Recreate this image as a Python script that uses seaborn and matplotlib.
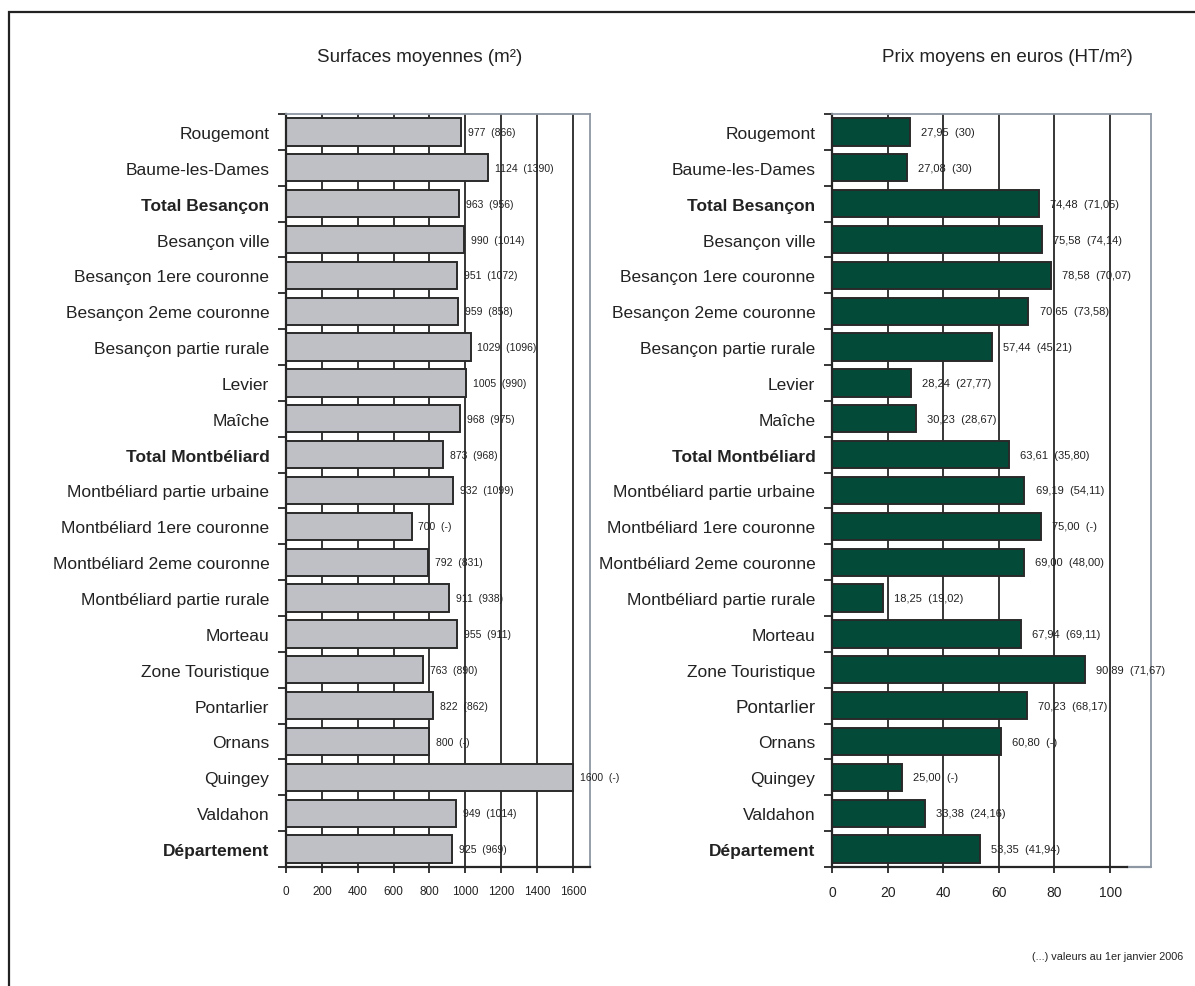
import matplotlib
matplotlib.use("Agg")
import matplotlib.pyplot as plt
from matplotlib.patches import Rectangle
from matplotlib.ticker import FixedLocator
import seaborn as sns
import pandas as pd

sns.set_theme(style="white")
plt.rcParams["font.family"] = ["Liberation Sans", "DejaVu Sans"]

categories = ["Rougemont", "Baume-les-Dames", "Total Besançon", "Besançon ville",
              "Besançon 1ere couronne", "Besançon 2eme couronne", "Besançon partie rurale",
              "Levier", "Maîche", "Total Montbéliard", "Montbéliard partie urbaine",
              "Montbéliard 1ere couronne", "Montbéliard 2eme couronne",
              "Montbéliard partie rurale", "Morteau", "Zone Touristique", "Pontarlier",
              "Ornans", "Quingey", "Valdahon", "Département"]
bold_rows = ["Total Besançon", "Total Montbéliard", "Département"]

surfaces = [977, 1124, 963, 990, 951, 959, 1029, 1005, 968, 873, 932, 700, 792,
            911, 955, 763, 822, 800, 1600, 949, 925]
surfaces_2006 = ["866", "1390", "956", "1014", "1072", "858", "1096", "990", "975",
                 "968", "1099", "-", "831", "938", "911", "890", "862", "-", "-",
                 "1014", "969"]

prix = [27.95, 27.08, 74.48, 75.58, 78.58, 70.65, 57.44, 28.24, 30.23, 63.61, 69.19,
        75.00, 69.00, 18.25, 67.94, 90.89, 70.23, 60.80, 25.00, 33.38, 53.35]
prix_2006 = ["30", "30", "71,05", "74,14", "70,07", "73,58", "45,21", "27,77", "28,67",
             "35,80", "54,11", "-", "48,00", "19,02", "69,11", "71,67", "68,17", "-",
             "-", "24,16", "41,94"]

surface_ticks = [0, 200, 400, 600, 800, 1000, 1200, 1400, 1600]
prix_ticks = [0, 20, 40, 60, 80, 100]

title_left = "Surfaces moyennes (m²)"
title_right = "Prix moyens en euros (HT/m²)"
footnote = "(...) valeurs au 1er janvier 2006"

W, H = 1195, 987
fig = plt.figure(figsize=(W / 100, H / 100), dpi=100)
fig.patch.set_facecolor("white")

# outer frame (top and left edges run off the page)
fig.patches.append(Rectangle((9 / W, -0.05), 1.2, 1 - 13 / H + 0.05,
                             transform=fig.transFigure, fill=False,
                             edgecolor="#222222", linewidth=1.6, clip_on=False))

top, bottom = 115, 868
ax_l = fig.add_axes([286 / W, 1 - bottom / H, (590 - 286) / W, (bottom - top) / H])
ax_r = fig.add_axes([832 / W, 1 - bottom / H, (1151 - 832) / W, (bottom - top) / H])

df = pd.DataFrame({"cat": categories, "surface": surfaces, "prix": prix})

GRID = "#262626"
FRAME = "#8d97a3"


def style_axes(ax, ticks, xmax, tick_size, label_pad):
    ax.set_xlim(0, xmax)
    ax.set_ylim(len(categories) - 0.5, -0.5)
    ax.set_xticks(ticks)
    ax.set_xlabel("")
    ax.set_ylabel("")
    ax.xaxis.grid(True, color=GRID, linewidth=1.3)
    ax.yaxis.grid(False)
    ax.set_axisbelow(True)
    for side in ("top", "right"):
        ax.spines[side].set_color(FRAME)
        ax.spines[side].set_linewidth(1.3)
    for side in ("left", "bottom"):
        ax.spines[side].set_color(GRID)
        ax.spines[side].set_linewidth(1.6)
    ax.tick_params(axis="x", bottom=True, length=4, width=1.3, color=GRID,
                   labelsize=tick_size, labelcolor="#222222", pad=9)
    ax.tick_params(axis="y", which="major", left=False, length=0, pad=label_pad,
                   labelsize=12.5, labelcolor="#222222")
    ax.yaxis.set_minor_locator(FixedLocator([i - 0.5 for i in range(len(categories) + 1)]))
    ax.tick_params(axis="y", which="minor", left=True, length=6, width=1.3,
                   color=GRID, direction="out")
    for lab in ax.get_yticklabels():
        if lab.get_text() in bold_rows:
            lab.set_fontweight("bold")


sns.barplot(data=df, x="surface", y="cat", orient="h", ax=ax_l, color="#bec0c6",
            saturation=1, edgecolor="#2a2a2a", linewidth=1.4, width=0.76)
style_axes(ax_l, surface_ticks, 1695, 8.5, 12)

sns.barplot(data=df, x="prix", y="cat", orient="h", ax=ax_r, color="#034b38",
            saturation=1, edgecolor="#2a2a2a", linewidth=1.4, width=0.76)
style_axes(ax_r, prix_ticks, 114.7, 10, 12)
for lab in ax_r.get_yticklabels():
    if lab.get_text() == "Pontarlier":
        lab.set_fontsize(13.5)

# bottom axis of the price panel turns grey past the last tick
ax_r.spines["bottom"].set_bounds(0, 106)
ax_r.axhline(len(categories) - 0.5, xmin=106 / 114.7, xmax=1, color=FRAME,
             linewidth=1.6, clip_on=False)

for i, (v, old) in enumerate(zip(surfaces, surfaces_2006)):
    ax_l.annotate(f"{v}  ({old})", xy=(v, i), xytext=(5, 0), textcoords="offset points",
                  va="center", ha="left", fontsize=7.5, color="#222222")

for i, (v, old) in enumerate(zip(prix, prix_2006)):
    txt = f"{v:.2f}".replace(".", ",")
    ax_r.annotate(f"{txt}  ({old})", xy=(v, i), xytext=(8, 0), textcoords="offset points",
                  va="center", ha="left", fontsize=8, color="#222222")

fig.text(420 / W, 1 - 57 / H, title_left, ha="center", va="center", fontsize=13.5,
         color="#222222")
fig.text(1007 / W, 1 - 57 / H, title_right, ha="center", va="center", fontsize=13.5,
         color="#222222")
fig.text(1183 / W, 1 - 957 / H, footnote, ha="right", va="center", fontsize=7.8,
         color="#222222")

fig.savefig("out.png", dpi=100)
